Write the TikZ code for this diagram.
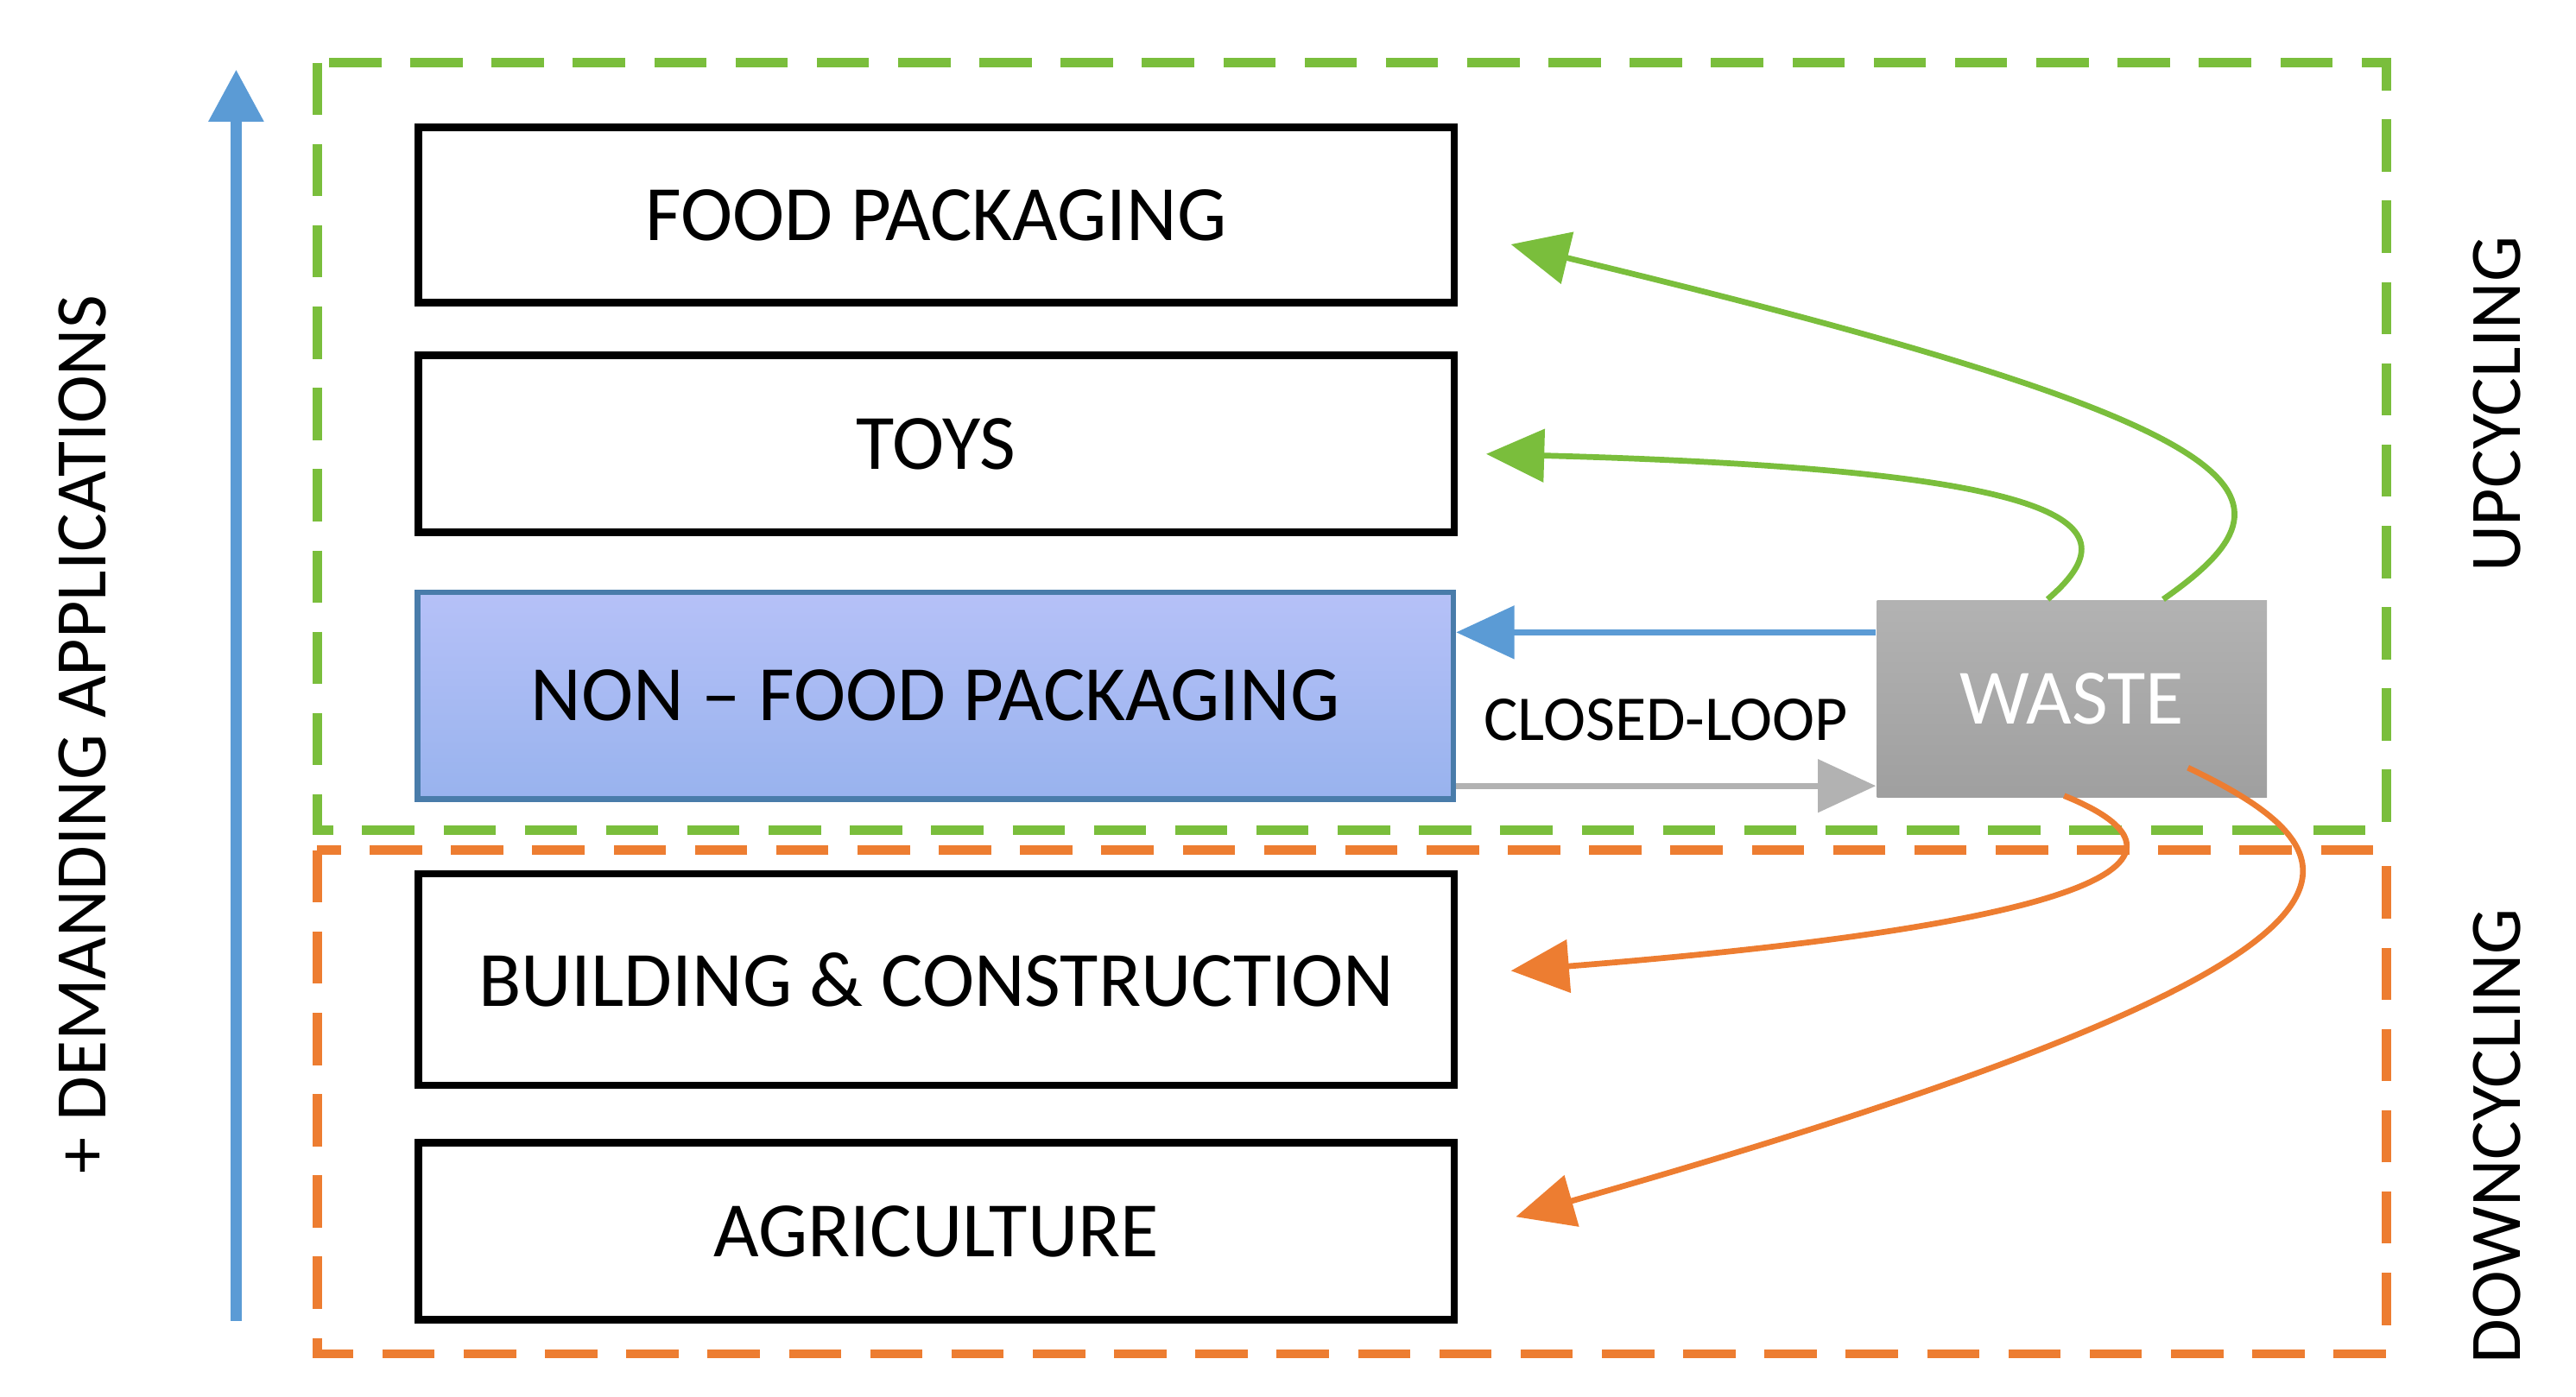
\documentclass[tikz,border=0pt]{standalone}
\usepackage{fontspec}
\setmainfont{Carlito}
\usetikzlibrary{arrows.meta}
\definecolor{upgreen}{RGB}{122,190,60}
\definecolor{downorange}{RGB}{237,125,49}
\definecolor{axisblue}{RGB}{91,155,213}
\begin{document}
\begin{tikzpicture}[x=0.01cm,y=-0.01cm,
    app/.style={draw=black,line width=1.3pt,minimum width=6.27cm,anchor=north west,font=\fontsize{13.5}{16}\selectfont,inner sep=0pt},
    frame/.style={dashed,line width=1.6pt,dash pattern=on 9pt off 5pt},
    flow/.style={line width=1pt,-{Triangle[length=10pt,width=9pt]}},
    side/.style={font=\fontsize{12.5}{14}\selectfont,rotate=90}]
  \useasboundingbox (0,0) rectangle (1560,846);

  % frames
  \draw[frame,upgreen] (192,38) rectangle (1445,503);
  \draw[frame,downorange] (192,515) rectangle (1445,820);

  % demand axis
  \coordinate (axb) at (143,800);
  \coordinate (axt) at (143,42);
  \draw[axisblue,line width=2pt,-{Triangle[length=9pt,width=9pt]}] (axb) -- (axt);
  \node[side] (demand) at (50,445) {+ DEMANDING APPLICATIONS};
  \node[side] (up) at (1512,245) {UPCYCLING};
  \node[side] (down) at (1512,688) {DOWNCYCLING};

  % applications
  \node[app,minimum height=1.06cm] (food) at (251,75) {FOOD PACKAGING};
  \node[app,minimum height=1.07cm] (toys) at (251,213) {TOYS};
  \node[app,draw=axisblue!80!black,line width=1pt,minimum height=1.25cm,top color=axisblue!50!blue!35,bottom color=axisblue!75!blue!55] (nonfood) at (251,357) {NON -- FOOD PACKAGING};
  \node[app,minimum height=1.28cm] (build) at (251,527) {BUILDING \& CONSTRUCTION};
  \node[app,minimum height=1.07cm] (agri) at (251,690) {AGRICULTURE};

  \node[top color=gray!60,bottom color=gray!75,minimum width=2.36cm,minimum height=1.19cm,anchor=north west,text=white,font=\fontsize{13.5}{16}\selectfont,inner sep=0pt] (waste) at (1136,363) {WASTE};

  % flows
  \draw[flow,axisblue] (waste.north west |- 0,383) -- (nonfood.east |- 0,383);
  \draw[flow,gray!60] (nonfood.east |- 0,476) -- (waste.west |- 0,476)
    node[pos=0.5,above=4pt,text=black,font=\fontsize{11}{13}\selectfont] (loop) {CLOSED-LOOP};
  \draw[flow,upgreen] (1310,363) .. controls (1400,300) and (1380,260) .. (915,148);
  \draw[flow,upgreen] (1240,363) .. controls (1290,320) and (1270,285) .. (900,275);
  \draw[flow,downorange] (1250,482) .. controls (1320,510) and (1330,555) .. (915,588);
  \draw[flow,downorange] (1325,465) .. controls (1440,520) and (1470,580) .. (918,737);
\end{tikzpicture}
\end{document}
